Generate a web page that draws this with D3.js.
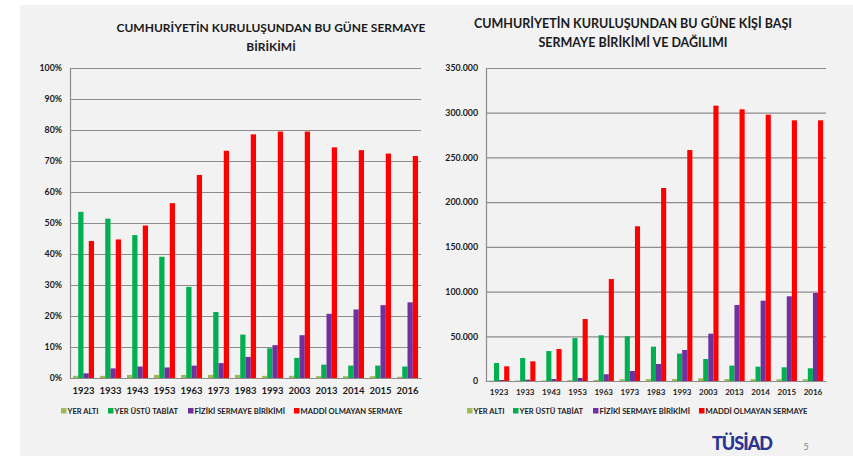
<!DOCTYPE html>
<html>
<head>
<meta charset="utf-8">
<script src="https://cdn.jsdelivr.net/npm/d3@7"></script>
<style>
  body { margin: 0; background: #fff; }
  svg { display: block; font-family: Lato, "Open Sans", sans-serif; font-weight: bold; }
</style>
</head>
<body>
<svg id="chart" width="853" height="456"></svg>
<script>
const years = ["1923", "1933", "1943", "1953", "1963", "1973", "1983", "1993", "2003", "2013", "2014", "2015", "2016"]

const seriesNames = ["YER ALTI", "YER ÜSTÜ TABİAT", "FİZİKİ SERMAYE BİRİKİMİ", "MADDİ OLMAYAN SERMAYE"]
const seriesColors = ["#9BBB59", "#00B050", "#7030A0", "#FF0000"]

// share of total capital, %
const shareYerAlti = [0.7, 0.7, 1.0, 1.0, 1.0, 1.0, 1.0, 0.7, 0.7, 0.6, 0.6, 0.6, 0.4]
const shareYerUstu = [53.6, 51.4, 46.1, 39.1, 29.4, 21.3, 14.0, 9.6, 6.5, 4.3, 4.0, 4.0, 3.7]
const shareFiziki = [1.5, 3.1, 3.7, 3.4, 4.0, 4.8, 6.8, 10.6, 13.8, 20.7, 22.1, 23.5, 24.4]
const shareMaddi = [44.2, 44.7, 49.2, 56.4, 65.5, 73.3, 78.6, 79.5, 79.5, 74.4, 73.5, 72.4, 71.6]

// per capita capital
const perYerAlti = [500, 500, 600, 1000, 1200, 2000, 2200, 2300, 3000, 2200, 2100, 2000, 2000]
const perYerUstu = [20100, 25700, 33500, 48000, 51100, 50000, 38400, 30600, 24600, 17200, 16000, 15300, 14200]
const perFiziki = [1100, 1500, 2200, 3400, 7500, 11200, 19000, 34700, 52900, 85000, 89800, 94700, 98400]
const perMaddi = [16400, 22000, 35800, 69300, 114000, 173000, 215800, 258300, 307900, 303800, 297800, 291500, 291500]

const pctTicks = [0, 10, 20, 30, 40, 50, 60, 70, 80, 90, 100]
const valTicks = [0, 50000, 100000, 150000, 200000, 250000, 300000, 350000]

const svg = d3.select("#chart")

// slide background
svg.append("rect").attr("x", 20).attr("y", 5).attr("width", 833).attr("height", 451).attr("fill", "#f2f2f2")

function drawChart(cfg) {
	const g = svg.append("g")

	const x = d3.scaleBand().domain(years).range([cfg.left, cfg.right]).paddingInner(0.22).paddingOuter(0.11)
	const xs = d3.scaleBand().domain(d3.range(4)).range([0, x.bandwidth()])
	const y = d3.scaleLinear().domain([0, cfg.max]).range([cfg.bottom, cfg.top])

	// title
	g.selectAll("text.title")
		.data(cfg.title)
		.enter()
		.append("text")
		.attr("x", cfg.titleX)
		.attr("y", (d, i) => cfg.titleY + i * 19)
		.attr("text-anchor", "middle")
		.attr("font-size", cfg.titleFont)
		.attr("fill", "#1a1a1a")
		.text(d => d)

	// gridlines + y axis
	const yAxis = d3.axisLeft(y).tickValues(cfg.ticks).tickSize(-(cfg.right - cfg.left)).tickPadding(8).tickFormat(cfg.fmt)
	const ya = g.append("g").attr("transform", `translate(${cfg.left},0)`).call(yAxis)
	ya.select(".domain").attr("stroke", "#8c8c8c").attr("stroke-width", 1.2)
	ya.selectAll(".tick line").attr("stroke", "#8c8c8c").attr("stroke-width", 1.2)
	ya.selectAll(".tick text").attr("font-size", cfg.yFont).attr("font-family", "Lato").attr("font-weight", "bold").attr("fill", "#1a1a1a")

	// bars
	const groups = g.selectAll("g.year")
		.data(years)
		.enter()
		.append("g")
		.attr("transform", d => `translate(${x(d)},0)`)

	groups.selectAll("rect")
		.data((d, i) => cfg.series.map((s, k) => ({k: k, v: s[i]})))
		.enter()
		.append("rect")
		.attr("x", d => xs(d.k))
		.attr("width", xs.bandwidth())
		.attr("y", d => y(d.v))
		.attr("height", d => cfg.bottom - y(d.v))
		.attr("fill", d => seriesColors[d.k])

	// x axis
	const xAxis = d3.axisBottom(x).tickSize(0).tickPadding(cfg.xPad)
	const xa = g.append("g").attr("transform", `translate(0,${cfg.bottom})`).call(xAxis)
	xa.select(".domain").attr("stroke", "#8c8c8c").attr("stroke-width", 1.2)
	xa.selectAll(".tick text").attr("font-size", cfg.xFont).attr("font-family", "Lato").attr("font-weight", "bold").attr("fill", "#1a1a1a")

	// legend
	const leg = g.selectAll("g.leg")
		.data(seriesNames)
		.enter()
		.append("g")
		.attr("transform", (d, i) => `translate(${cfg.legendX[i]},${cfg.legendY})`)
	leg.append("rect").attr("x", 0).attr("y", -3).attr("width", 5.5).attr("height", 5.5).attr("fill", (d, i) => seriesColors[i])
	leg.append("text").attr("x", 6.5).attr("y", 0).attr("dy", "0.35em").attr("font-size", 7.6).attr("fill", "#1a1a1a").text(d => d)
}

drawChart({
	left: 70, right: 421, top: 68, bottom: 378, max: 100,
	ticks: pctTicks, fmt: d => d + "%",
	series: [shareYerAlti, shareYerUstu, shareFiziki, shareMaddi],
	title: ["CUMHURİYETİN KURULUŞUNDAN BU GÜNE SERMAYE", "BİRİKİMİ"],
	titleX: 271, titleY: 32, titleFont: 12,
	yFont: 8.8, xFont: 9.5, xPad: 9,
	legendX: [61, 108, 188, 294], legendY: 411
})

drawChart({
	left: 486, right: 826, top: 68, bottom: 381, max: 350000,
	ticks: valTicks, fmt: d => d === 0 ? "0" : d3.format(",")(d).replace(/,/g, "."),
	series: [perYerAlti, perYerUstu, perFiziki, perMaddi],
	title: ["CUMHURİYETİN KURULUŞUNDAN BU GÜNE KİŞİ BAŞI", "SERMAYE BİRİKİMİ VE DAĞILIMI"],
	titleX: 633, titleY: 28, titleFont: 12.5,
	yFont: 8.8, xFont: 8, xPad: 8,
	legendX: [467, 513, 593, 699], legendY: 411
})

// logo and page number
svg.append("text").attr("x", 742).attr("y", 450).attr("text-anchor", "middle")
	.attr("font-size", 18).attr("font-weight", 900).attr("fill", "#2b3590").attr("letter-spacing", -1).text("TÜSİAD")
svg.append("text").attr("x", 806).attr("y", 450).attr("text-anchor", "middle")
	.attr("font-size", 9).attr("font-weight", "normal").attr("fill", "#7f7f7f").text("5")
</script>
</body>
</html>
